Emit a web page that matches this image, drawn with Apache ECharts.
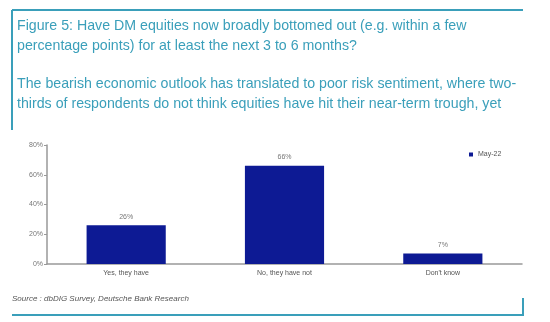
<!DOCTYPE html>
<html>
<head>
<meta charset="utf-8">
<script src="https://cdn.jsdelivr.net/npm/echarts@6/dist/echarts.min.js"></script>
<style>
html,body{margin:0;padding:0;background:#fff;}
#c{width:550px;height:322px;}
</style>
</head>
<body>
<div id="c"></div>
<script>
const categories = ["Yes, they have", "No, they have not", "Don't know"];
const may22 = [26, 66, 7];
const yTicks = [0, 20, 40, 60, 80];
const seriesName = "May-22";
const titleLines = [
  "Figure 5: Have DM equities now broadly bottomed out (e.g. within a few",
  "percentage points) for at least the next 3 to 6 months?"
];
const subtitleLines = [
  "The bearish economic outlook has translated to poor risk sentiment, where two-",
  "thirds of respondents do not think equities have hit their near-term trough, yet"
];
const sourceText = "Source : dbDIG Survey, Deutsche Bank Research";

const teal = '#3a9fba';
const txtFont = '"Liberation Sans", Arial, sans-serif';
const chart = echarts.init(document.getElementById('c'));

const graphics = [
  {type:'line', shape:{x1:12,y1:10,x2:523,y2:10}, style:{stroke:teal,lineWidth:2}},
  {type:'line', shape:{x1:12,y1:10,x2:12,y2:130}, style:{stroke:teal,lineWidth:2}},
  {type:'line', shape:{x1:12,y1:315,x2:523,y2:315}, style:{stroke:teal,lineWidth:2}},
  {type:'line', shape:{x1:523,y1:298,x2:523,y2:316}, style:{stroke:teal,lineWidth:2}},
  {type:'text', left:12, top:295, style:{text:sourceText, fill:'#555', font:'italic 8px ' + txtFont}}
];
const lineYs = [27, 47.5, 85.5, 105];
titleLines.concat(subtitleLines).forEach((t, i) => {
  graphics.push({type:'text', left:17, top:lineYs[i]-8, style:{text:t, fill:teal, font:'14.2px ' + txtFont}});
});

chart.setOption({
  animation:false,
  graphic: graphics,
  legend: {
    data:[seriesName], top:146, itemWidth:4, itemHeight:4, itemGap:2,
    left:464, icon:'rect', textStyle:{fontSize:7, color:'#555', fontFamily:txtFont}
  },
  grid:{left:47, right:28, top:145, bottom:58},
  xAxis:{
    type:'category', data:categories,
    axisLine:{lineStyle:{color:'#999', width:1.5}},
    axisTick:{show:false},
    axisLabel:{fontSize:7, color:'#555', margin:6, fontFamily:txtFont}
  },
  yAxis:{
    type:'value', min:0, max:80, interval:20,
    axisLine:{show:true, lineStyle:{color:'#999', width:1.5}},
    axisTick:{show:true, length:3, lineStyle:{color:'#999'}},
    splitLine:{show:false},
    axisLabel:{fontSize:7, color:'#777', margin:4, fontFamily:txtFont,
      formatter: v => yTicks.includes(v) ? v + '%' : ''}
  },
  series:[{
    name:seriesName, type:'bar', data:may22, barWidth:'50%',
    itemStyle:{color:'#0d1a94'},
    label:{show:true, position:'top', distance:5, formatter:'{c}%', fontSize:7, color:'#777', fontFamily:txtFont}
  }]
});
</script>
</body>
</html>
